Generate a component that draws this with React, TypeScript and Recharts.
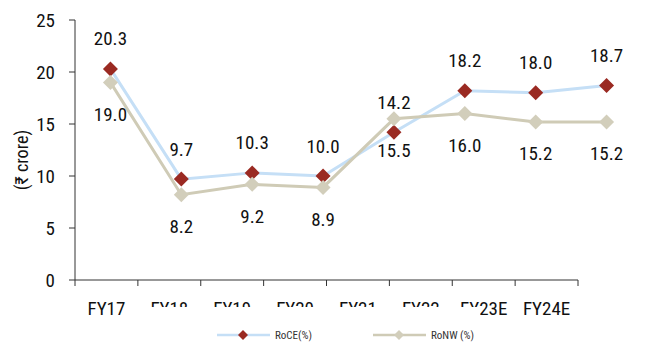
import React from 'react';
import { LineChart, Line, XAxis, YAxis, Legend, LabelList } from 'recharts';

const years = ['FY17', 'FY18', 'FY19', 'FY20', 'FY21', 'FY22', 'FY23E', 'FY24E'];
const roce = [20.3, 9.7, 10.3, 10.0, 14.2, 18.2, 18.0, 18.7];
const ronw = [19.0, 8.2, 9.2, 8.9, 15.5, 16.0, 15.2, 15.2];
const yTicks = [0, 5, 10, 15, 20, 25];

const FONT = '"Liberation Sans Narrow", "Roboto Condensed", "DejaVu Sans Condensed", Roboto, sans-serif';
const AXIS = '#333333';
const TEXT = '#111111';

const colors = {
    roceLine: '#c5dff6',
    roceDot: '#9a2a22',
    ronwLine: '#cfcbb6',
    ronwDot: '#d2cebb',
};

const data = years.map((year, i) => ({ year, roce: roce[i], ronw: ronw[i] }));

const Diamond = (fill: string, r: number) => (props: any) => {
    const { cx, cy, index } = props;
    if (cx == null || cy == null) return <g key={index} />;
    return (
        <polygon
            key={index}
            points={`${cx},${cy - r} ${cx + r},${cy} ${cx},${cy + r} ${cx - r},${cy}`}
            fill={fill}
        />
    );
};

const valueLabel = (dy: number) => (props: any) => {
    const { x, y, value, index } = props;
    return (
        <text
            key={index}
            x={x}
            y={y + dy}
            textAnchor="middle"
            dominantBaseline="central"
            fontFamily={FONT}
            fontSize={19}
            fill={TEXT}
        >
            {Number(value).toFixed(1)}
        </text>
    );
};

// category labels centred in their band, tick marks on the band edges
const XTick = (props: any) => {
    const { x, y, payload, index } = props;
    const half = payload?.offset ?? 31.4;
    const top = y - 6;
    return (
        <g>
            <line x1={x - half} x2={x - half} y1={top} y2={top + 6} stroke={AXIS} />
            {index === years.length - 1 && (
                <line x1={x + half} x2={x + half} y1={top} y2={top + 6} stroke={AXIS} />
            )}
            <text x={x} y={y + 29} textAnchor="middle" fontFamily={FONT} fontSize={19} fill={TEXT}>
                {payload.value}
            </text>
        </g>
    );
};

const legendItems = [
    { name: 'RoCE(%)', line: colors.roceLine, dot: colors.roceDot, left: 77 },
    { name: 'RoNW (%)', line: colors.ronwLine, dot: colors.ronwDot, left: 233 },
];

const LegendContent = () => (
    <svg width={340} height={40} style={{ display: 'block' }}>
        {legendItems.map((it) => (
            <g key={it.name}>
                <line x1={it.left} x2={it.left + 53} y1={28} y2={28} stroke={it.line} strokeWidth={2.5} />
                <polygon
                    points={`${it.left + 26},${23} ${it.left + 31},${28} ${it.left + 26},${33} ${it.left + 21},${28}`}
                    fill={it.dot}
                />
                <text x={it.left + 58} y={32} fontFamily={FONT} fontSize={11} fill="#333">
                    {it.name}
                </text>
            </g>
        ))}
    </svg>
);

const YLabel = () => (
    <text
        x={21}
        y={160}
        transform="rotate(-90 21 160)"
        textAnchor="middle"
        dominantBaseline="central"
        fontFamily={FONT}
        fontSize={18}
        fill={TEXT}
    >
        (₹ crore)
    </text>
);

export default function App() {
    return (
        <div style={{ position: 'absolute', left: 0, top: 0, background: '#fff' }}>
            <LineChart width={646} height={347} data={data} margin={{ top: 20, right: 68, left: 25, bottom: 37 }}>
                <XAxis
                    xAxisId="cat"
                    dataKey="year"
                    scale="band"
                    axisLine={{ stroke: AXIS }}
                    tickLine={false}
                    tickSize={6}
                    tickMargin={0}
                    height={30}
                    interval={0}
                    tick={<XTick />}
                />
                <XAxis xAxisId="pts" dataKey="year" scale="band" hide padding={{ left: 0, right: -64 }} />
                <YAxis
                    domain={[0, 25]}
                    ticks={yTicks}
                    width={50}
                    axisLine={{ stroke: AXIS }}
                    tickLine={{ stroke: AXIS }}
                    tickSize={6}
                    tickMargin={14}
                    tick={{ fontFamily: FONT, fontSize: 19, fill: TEXT }}
                    label={<YLabel />}
                />
                <Line
                    xAxisId="pts"
                    dataKey="roce"
                    name="RoCE(%)"
                    stroke={colors.roceLine}
                    strokeWidth={3}
                    dot={Diamond(colors.roceDot, 7.5)}
                    activeDot={false}
                    isAnimationActive={false}
                >
                    <LabelList dataKey="roce" content={valueLabel(-30)} />
                </Line>
                <Line
                    xAxisId="pts"
                    dataKey="ronw"
                    name="RoNW (%)"
                    stroke={colors.ronwLine}
                    strokeWidth={3}
                    dot={Diamond(colors.ronwDot, 7.5)}
                    activeDot={false}
                    isAnimationActive={false}
                >
                    <LabelList dataKey="ronw" content={valueLabel(32)} />
                </Line>
                <Legend
                    layout="horizontal"
                    verticalAlign="middle"
                    content={<LegendContent />}
                    wrapperStyle={{ left: 140, top: 307, width: 340, height: 40, background: '#fff' }}
                />
            </LineChart>
        </div>
    );
}
